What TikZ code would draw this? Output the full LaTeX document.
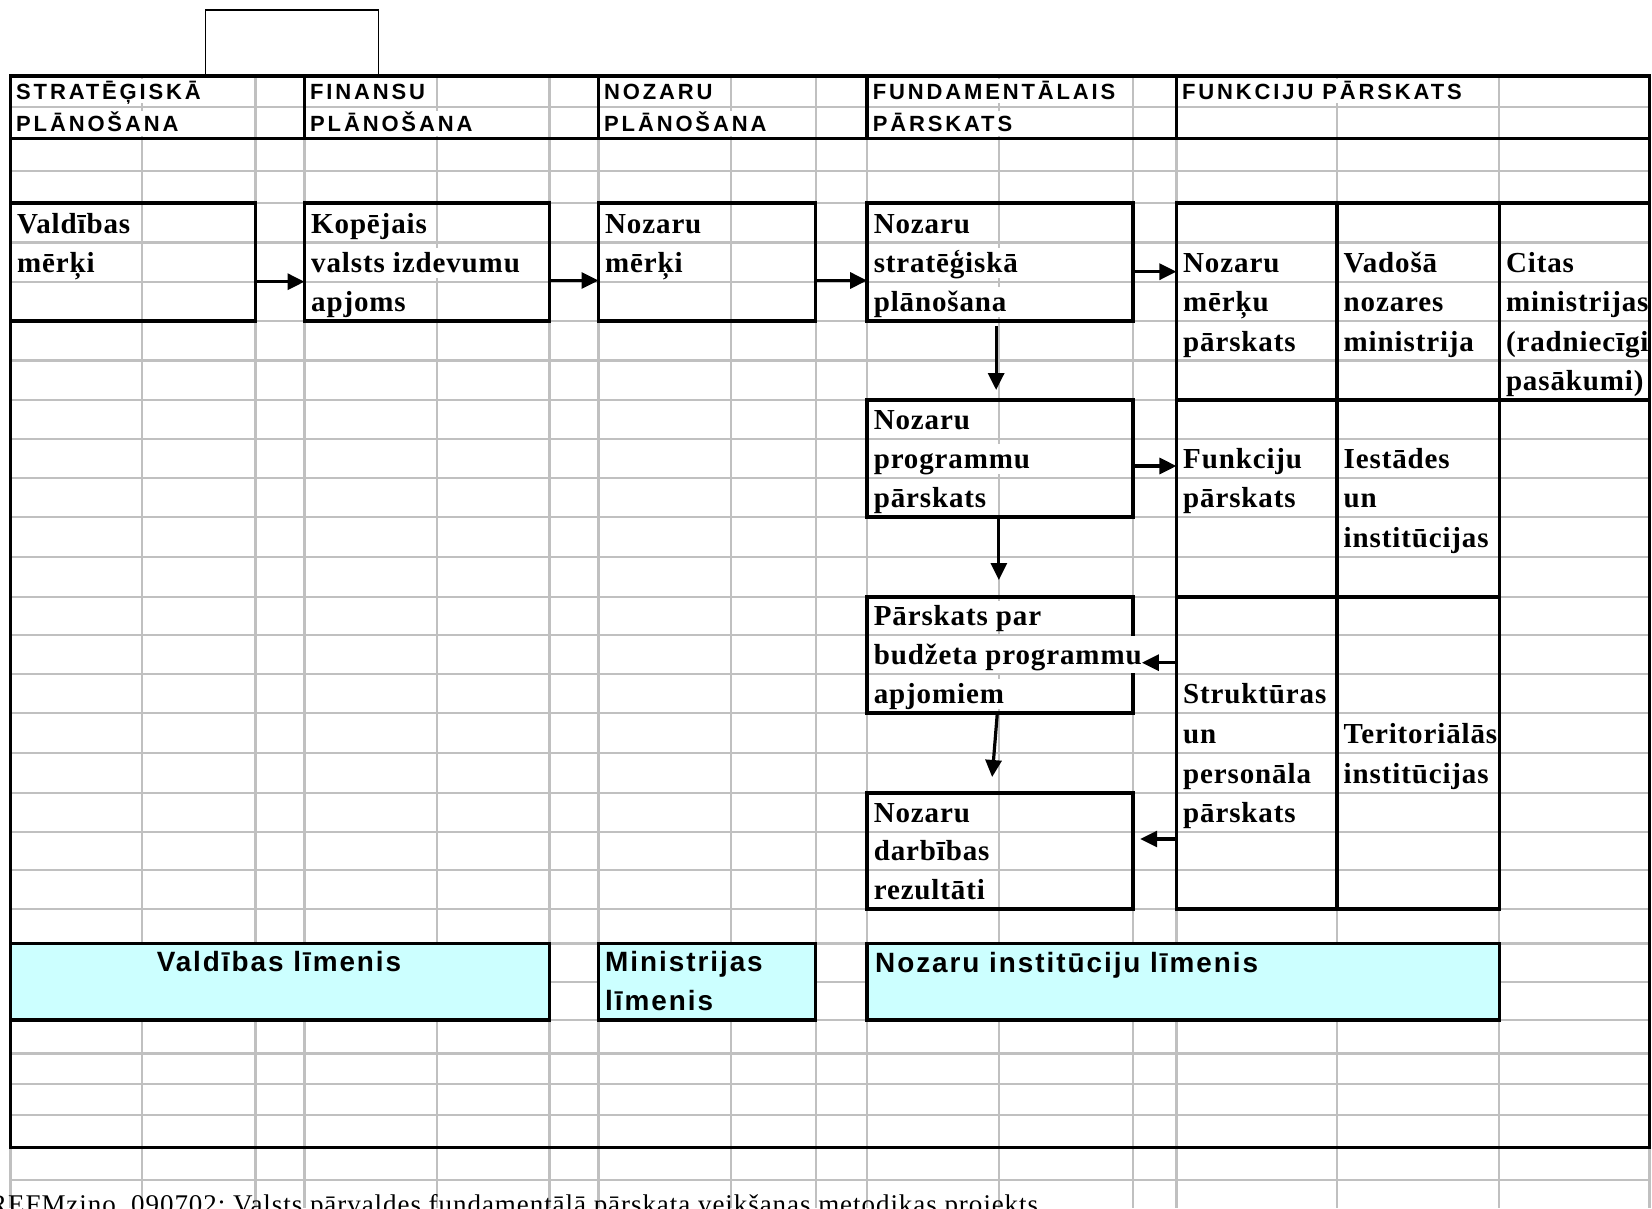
\documentclass[tikz,border=0pt]{standalone}
\usepackage{fontspec}
\usetikzlibrary{arrows.meta,calc}
\newfontfamily\serfont{Liberation Serif}[LetterSpace=3]
\newfontfamily\sanfont{Liberation Sans}[LetterSpace=13]
\newfontfamily\cyfont{Liberation Sans}[LetterSpace=7]
\newfontfamily\footfont{Liberation Serif}[LetterSpace=3.5]
\definecolor{gridc}{RGB}{192,192,192}
\definecolor{cyanf}{RGB}{204,255,255}
\tikzset{
  gridline/.style={draw=gridc, line width=2.2pt},
  frameline/.style={draw=black, line width=3.6pt},
  tbox/.style={draw=black, line width=3.6pt, rectangle, inner sep=0pt, outer sep=0pt, anchor=north west},
  cybox/.style={tbox, fill=cyanf},
  lbl/.style={anchor=base west, inner sep=0pt, fill=white, font=\serfont\bfseries\fontsize{29}{29}\selectfont, text height=25pt, text depth=5pt},
  lblwide/.style={lbl, text height=28.5pt, text depth=8.5pt},
  hdr/.style={anchor=base west, inner sep=0pt, fill=white, font=\sanfont\bfseries\fontsize{22}{22}\selectfont, text height=20.5pt, text depth=4pt},
  cylbl/.style={anchor=base west, inner sep=0pt, font=\cyfont\bfseries\fontsize{27.9}{27.9}\selectfont},
  foottext/.style={anchor=base west, inner sep=0pt, font=\footfont\fontsize{27}{27}\selectfont},
  arr/.style={line width=3.2pt, -{Triangle[length=17pt,width=16pt]}},
}
\begin{document}
\begin{tikzpicture}[x=1pt,y=-1pt]
\useasboundingbox (0,0) rectangle (1652,1208);
\clip (0,0) rectangle (1652,1208);
\fill[white] (0,0) rectangle (1652,1208);

% ---------- gray grid ----------
\foreach \xx in {10.5,142.3,255.5,304.5,437.3,549.5,598.5,731.3,815.6,867.1,998.8,1133.2,1176.4,1337,1499.3,1649.5}
  \draw[gridline] (\xx,76) -- (\xx,1208);
\foreach \yy in {107.3,138.5,171,203,242.5,282,321,360.5,400,439,478,517,557,597,635,674,713,753,793,832,870,909,943.5,982,1020,1053.5,1084,1115,1147.5,1180}
  \draw[gridline] (10.5,\yy) -- (1649.5,\yy);

% ---------- small box above the frame ----------
\draw[line width=1.2pt] (205.5,10) rectangle (378.3,76);

% ---------- header texts ----------
\node[hdr] (h1a) at (16,99) {STRATĒĢISKĀ};
\node[hdr] (h1b) at (16,131.5) {PLĀNOŠANA};
\node[hdr] (h2a) at (310,99) {FINANSU};
\node[hdr] (h2b) at (310,131.5) {PLĀNOŠANA};
\node[hdr] (h3a) at (604,99) {NOZARU};
\node[hdr] (h3b) at (604,131.5) {PLĀNOŠANA};
\node[hdr] (h4a) at (872.6,99) {FUNDAMENTĀLAIS};
\node[hdr] (h4b) at (872.6,131.5) {PĀRSKATS};
\node[hdr] (h5a) at (1182,99) {FUNKCIJU PĀRSKATS};

% ---------- labels ----------
\node[lbl] (l1a) at (17,233) {Valdības};
\node[lbl] (l1b) at (17,272.5) {mērķi};
\node[lbl] (l2a) at (311,233) {Kopējais};
\node[lbl] (l2b) at (311,272.5) {valsts izdevumu};
\node[lbl] (l2c) at (311,311.5) {apjoms};
\node[lbl] (l3a) at (605,233) {Nozaru};
\node[lbl] (l3b) at (605,272.5) {mērķi};
\node[lbl] (l4a) at (873.6,233) {Nozaru};
\node[lbl] (l4b) at (873.6,272.5) {stratēģiskā};
\node[lbl] (l4c) at (873.6,311.5) {plānošana};
\node[lbl] (ra1a) at (1183,272.5) {Nozaru};
\node[lbl] (ra1b) at (1183,311.5) {mērķu};
\node[lbl] (ra1c) at (1183,351) {pārskats};
\node[lbl] (ra2a) at (1343.5,272.5) {Vadošā};
\node[lbl] (ra2b) at (1343.5,311.5) {nozares};
\node[lbl] (ra2c) at (1343.5,351) {ministrija};
\node[lbl] (ra3a) at (1505.8,272.5) {Citas};
\node[lbl] (ra3b) at (1505.8,311.5) {ministrijas};
\node[lbl] (ra3c) at (1505.8,351) {(radniecīgi};
\node[lbl] (ra3d) at (1505.8,390.5) {pasākumi)};
\node[lbl] (l5a) at (873.6,429.5) {Nozaru};
\node[lbl] (l5b) at (873.6,468.5) {programmu};
\node[lbl] (l5c) at (873.6,507.5) {pārskats};
\node[lbl] (rb1a) at (1183,468.5) {Funkciju};
\node[lbl] (rb1b) at (1183,507.5) {pārskats};
\node[lbl] (rb2a) at (1343.5,468.5) {Iestādes};
\node[lbl] (rb2b) at (1343.5,507.5) {un};
\node[lbl] (rb2c) at (1343.5,547.5) {institūcijas};
\node[lbl] (l6a) at (873.6,625.5) {Pārskats par};
\node[lbl] (l6c) at (873.6,703.5) {apjomiem};
\node[lbl] (rc1a) at (1183,703.5) {Struktūras};
\node[lbl] (rc1b) at (1183,743.5) {un};
\node[lbl] (rc1c) at (1183,783.5) {personāla};
\node[lbl] (rc1d) at (1183,822.5) {pārskats};
\node[lbl] (rc2b) at (1343.5,783.5) {institūcijas};
\node[lbl] (l7a) at (873.6,822.5) {Nozaru};
\node[lbl] (l7b) at (873.6,860.5) {darbības};
\node[lbl] (l7c) at (873.6,899.5) {rezultāti};

% ---------- thick boxes ----------
\node[tbox, minimum width=245pt, minimum height=118pt] (b1) at (10.5,203) {};
\node[tbox, minimum width=245pt, minimum height=118pt] (b2) at (304.5,203) {};
\node[tbox, minimum width=217.1pt, minimum height=118pt] (b3) at (598.5,203) {};
\node[tbox, minimum width=266.1pt, minimum height=118pt] (b4) at (867.1,203) {};
\node[tbox, minimum width=266.1pt, minimum height=117pt] (b5) at (867.1,400) {};
\node[tbox, minimum width=266.1pt, minimum height=116pt] (b6) at (867.1,597) {};
\node[tbox, minimum width=266.1pt, minimum height=116pt] (b7) at (867.1,793) {};
\node[tbox, minimum width=160.6pt, minimum height=197pt] (rA1) at (1176.4,203) {};
\node[tbox, minimum width=162.3pt, minimum height=197pt] (rA2) at (1337,203) {};
\node[tbox, minimum width=150.2pt, minimum height=197pt] (rA3) at (1499.3,203) {};
\node[tbox, minimum width=160.6pt, minimum height=197pt] (rB1) at (1176.4,400) {};
\node[tbox, minimum width=162.3pt, minimum height=197pt] (rB2) at (1337,400) {};
\node[tbox, minimum width=160.6pt, minimum height=312pt] (rC1) at (1176.4,597) {};
\node[tbox, minimum width=162.3pt, minimum height=312pt] (rC2) at (1337,597) {};
\node[cybox, minimum width=539pt, minimum height=76.5pt] (cy1) at (10.5,943.5) {};
\node[cybox, minimum width=217.1pt, minimum height=76.5pt] (cy2) at (598.5,943.5) {};
\node[cybox, minimum width=632.2pt, minimum height=76.5pt] (cy3) at (867.1,943.5) {};

% ---------- frame ----------
\draw[frameline] (10.5,76) rectangle (1649.5,1147.5);
\draw[frameline] (10.5,138.5) -- (1649.5,138.5);
\foreach \xx in {304.5,598.5,867.1,1176.4}
  \draw[frameline] (\xx,76) -- (\xx,138.5);

% ---------- level labels ----------
\node[cylbl, anchor=base] (c1) at (279,971.7) {Valdības līmenis};
\node[cylbl] (c2a) at (605,971.7) {Ministrijas};
\node[cylbl] (c2b) at (605,1010.7) {līmenis};
\node[cylbl] (c3) at (875,972.7) {Nozaru institūciju līmenis};

% ---------- texts running over box borders ----------
\node[lblwide] (bp) at (873.6,664.5) {budžeta programmu};
\node[lblwide] (ter) at (1343.5,743.5) {Teritoriālās};

% ---------- arrows ----------
\coordinate (ya) at (0,281.7);
\coordinate (yb) at (0,280.5);
\coordinate (yc) at (0,271.7);
\coordinate (yd) at (0,466);
\coordinate (ye) at (0,662.7);
\coordinate (yf) at (0,839);
\draw[arr] (b1.east |- ya) -- (b2.west |- ya);
\draw[arr] (b2.east |- yb) -- (b3.west |- yb);
\draw[arr] (b3.east |- yb) -- (b4.west |- yb);
\draw[arr] (b4.east |- yc) -- (rA1.west |- yc);
\draw[arr] (b5.east |- yd) -- (rB1.west |- yd);
\draw[arr] (rC1.west |- ye) -- (bp.east |- ye);
\draw[arr, shorten >=7pt] (rC1.west |- yf) -- (b7.east |- yf);
\draw[arr] ($(b4.south)+(-4,5)$) -- ($(b5.north)+(-4,-10)$);
\draw[arr] ($(b5.south)+(-1.3,0)$) -- ($(b6.north)+(-1.3,-17)$);
\draw[arr] ($(b6.south)+(-3,2)$) -- ($(b7.north)+(-8,-16)$);

% ---------- footer ----------
\node[foottext] (foot) at (-11,1213.7) {REFMzino\_090702; Valsts pārvaldes fundamentālā pārskata veikšanas metodikas projekts};
\end{tikzpicture}
\end{document}
